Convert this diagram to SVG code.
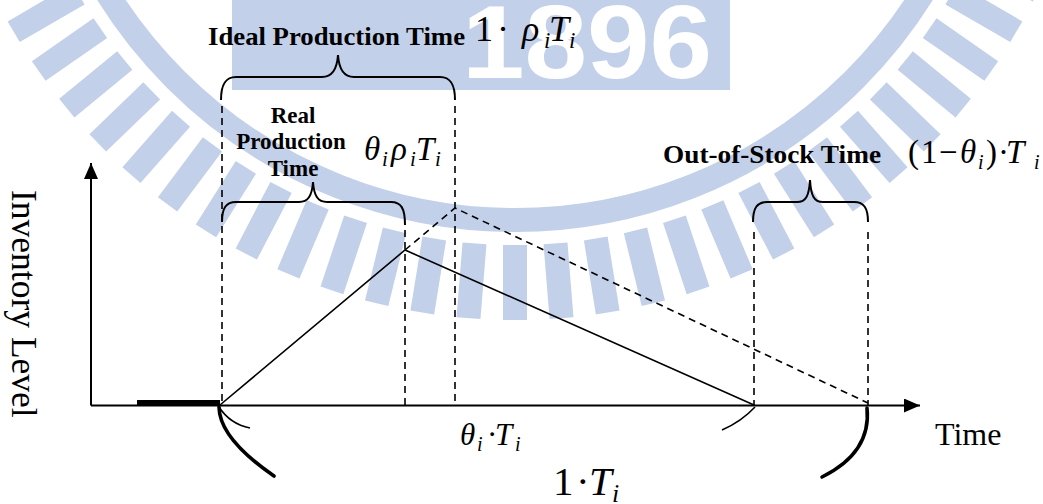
<svg xmlns="http://www.w3.org/2000/svg" width="1043" height="504" viewBox="0 0 1043 504">
<style>
.ax{stroke:#000;stroke-width:2;fill:none}
.ln{stroke:#000;stroke-width:1.6;fill:none}
.dash{stroke:#000;stroke-width:1.6;fill:none;stroke-dasharray:7 5}
.brace{stroke:#000;stroke-width:2;fill:none}
.arcthin{stroke:#000;stroke-width:1.6;fill:none}
.arcthick{stroke:#000;stroke-width:3.6;fill:none;stroke-linecap:round}
.lbl{font-family:"Liberation Serif","Times New Roman",serif;font-weight:bold;fill:#000}
.plain{font-family:"Liberation Serif","Times New Roman",serif;fill:#000}
.math{font-family:"Liberation Serif","Times New Roman",serif;fill:#000}
.it{font-style:italic}
.wm{fill:#c3d0e9}
</style>
<defs>
<marker id="arr" viewBox="0 0 16 14" refX="16" refY="7" markerWidth="16" markerHeight="14" orient="auto" markerUnits="userSpaceOnUse">
<path d="M0,0 L16,7 L0,14 z" fill="#000"/>
</marker>
<rect id="st" x="-12" y="505" width="24" height="75"/>
</defs>
<rect width="1043" height="504" fill="#fff"/>
<g id="watermark">
<rect class="wm" x="232" y="0" width="498" height="90"/>
<text x="462" y="78" font-family="Liberation Sans, Arial, sans-serif" font-weight="bold" font-size="104" fill="#fff" textLength="250" lengthAdjust="spacingAndGlyphs">1896</text>
<circle cx="515" cy="-260" r="480" fill="none" stroke="#c3d0e9" stroke-width="24"/>
<g transform="translate(515,-260)" class="wm">
<use href="#st" transform="rotate(-69)"/>
<use href="#st" transform="rotate(-64.4)"/>
<use href="#st" transform="rotate(-59.8)"/>
<use href="#st" transform="rotate(-55.2)"/>
<use href="#st" transform="rotate(-50.6)"/>
<use href="#st" transform="rotate(-46)"/>
<use href="#st" transform="rotate(-41.4)"/>
<use href="#st" transform="rotate(-36.8)"/>
<use href="#st" transform="rotate(-32.2)"/>
<use href="#st" transform="rotate(-27.6)"/>
<use href="#st" transform="rotate(-23)"/>
<use href="#st" transform="rotate(-18.4)"/>
<use href="#st" transform="rotate(-13.8)"/>
<use href="#st" transform="rotate(-9.2)"/>
<use href="#st" transform="rotate(-4.6)"/>
<use href="#st"/>
<use href="#st" transform="rotate(4.6)"/>
<use href="#st" transform="rotate(9.2)"/>
<use href="#st" transform="rotate(13.8)"/>
<use href="#st" transform="rotate(18.4)"/>
<use href="#st" transform="rotate(23)"/>
<use href="#st" transform="rotate(27.6)"/>
<use href="#st" transform="rotate(32.2)"/>
<use href="#st" transform="rotate(36.8)"/>
<use href="#st" transform="rotate(41.4)"/>
<use href="#st" transform="rotate(46)"/>
<use href="#st" transform="rotate(50.6)"/>
<use href="#st" transform="rotate(55.2)"/>
<use href="#st" transform="rotate(59.8)"/>
<use href="#st" transform="rotate(64.4)"/>
<use href="#st" transform="rotate(69)"/>
</g>
</g>

<g id="connectors">
<line class="ax" x1="91" y1="405.5" x2="91" y2="163" marker-end="url(#arr)"/>
<line class="ax" x1="91" y1="405.5" x2="920" y2="405.5" marker-end="url(#arr)"/>
<rect x="137" y="400" width="83" height="6" fill="#000"/>
<polyline class="ln" points="220,405 405,250 754,405"/>
<polyline class="dash" points="405,250 455,208 868,403"/>
<line class="dash" x1="222" y1="106" x2="222" y2="405"/>
<line class="dash" x1="405" y1="230" x2="405" y2="405"/>
<line class="dash" x1="455" y1="106" x2="455" y2="405"/>
<line class="dash" x1="754" y1="232" x2="754" y2="405"/>
<line class="dash" x1="868" y1="232" x2="868" y2="405"/>
</g>

<g id="brace-ideal">
<path class="brace" d="M221,100 C221,85 225,77 236,77 L322,77 C332,77 337,70 338,55 C339,70 344,77 354,77 L440,77 C451,77 455,85 455,100"/>
<text class="lbl" x="208" y="45" font-size="26" textLength="257" lengthAdjust="spacingAndGlyphs">Ideal Production Time</text>
<text class="math" y="41" font-size="36"><tspan x="475">1</tspan><tspan x="497">·</tspan><tspan class="it" x="522">ρ</tspan><tspan class="it" x="544" dy="7" font-size="23">i</tspan><tspan class="it" x="549" dy="-7">T</tspan><tspan class="it" x="569" dy="7" font-size="23">i</tspan></text>
</g>

<g id="brace-real">
<path class="brace" d="M222,222 C222,208 226,202 236,202 L299,202 C308,202 312,196 313,182 C314,196 318,202 327,202 L391,202 C401,202 405,208 405,225"/>
<text class="lbl" font-size="23" text-anchor="middle"><tspan x="293" y="123">Real</tspan><tspan x="291" y="149">Production</tspan><tspan x="293" y="176">Time</tspan></text>
<text class="math" y="160" font-size="33"><tspan class="it" x="364">θ</tspan><tspan class="it" x="382" dy="6" font-size="21">i</tspan><tspan class="it" x="391" dy="-6">ρ</tspan><tspan class="it" x="410" dy="6" font-size="21">i</tspan><tspan class="it" x="416" dy="-6">T</tspan><tspan class="it" x="435" dy="6" font-size="21">i</tspan></text>
</g>

<g id="brace-outofstock">
<path class="brace" d="M753,222 C753,208 757,202 767,202 L797,202 C806,202 809,196 810,180 C811,196 814,202 823,202 L854,202 C864,202 868,208 868,222"/>
<text class="lbl" x="663" y="163" font-size="25" textLength="218" lengthAdjust="spacingAndGlyphs">Out-of-Stock Time</text>
<text class="math" y="163" font-size="33"><tspan x="908">(</tspan><tspan x="921">1</tspan><tspan x="939">−</tspan><tspan class="it" x="960">θ</tspan><tspan class="it" x="978" dy="6" font-size="20">i</tspan><tspan x="986" dy="-6">)</tspan><tspan x="998">·</tspan><tspan class="it" x="1006">T</tspan><tspan class="it" x="1034" dy="6" font-size="20">i</tspan></text>
</g>

<g id="cycle-brace">
<path class="arcthin" d="M219,407 Q230,424 250,428"/>
<path class="arcthin" d="M755,407 Q741.5,421.5 722,430"/>
<path class="arcthick" d="M219,407 Q219.5,438.5 274,476"/>
<path class="arcthick" d="M867,408 Q871.5,452.5 822,477"/>
<text class="math" y="445" font-size="31"><tspan class="it" x="460">θ</tspan><tspan class="it" x="477" dy="6" font-size="20">i</tspan><tspan x="487" dy="-6">·</tspan><tspan class="it" x="495">T</tspan><tspan class="it" x="515" dy="6" font-size="20">i</tspan></text>
<text class="math" y="495" font-size="41"><tspan x="553">1</tspan><tspan x="576">·</tspan><tspan class="it" x="589">T</tspan><tspan class="it" x="612" dy="7" font-size="26">i</tspan></text>
</g>

<g id="axis-labels">
<text class="plain" x="935" y="445" font-size="32">Time</text>
<text class="plain" font-size="35.5" transform="translate(12,190) rotate(90)">Inventory Level</text>
</g>
</svg>
